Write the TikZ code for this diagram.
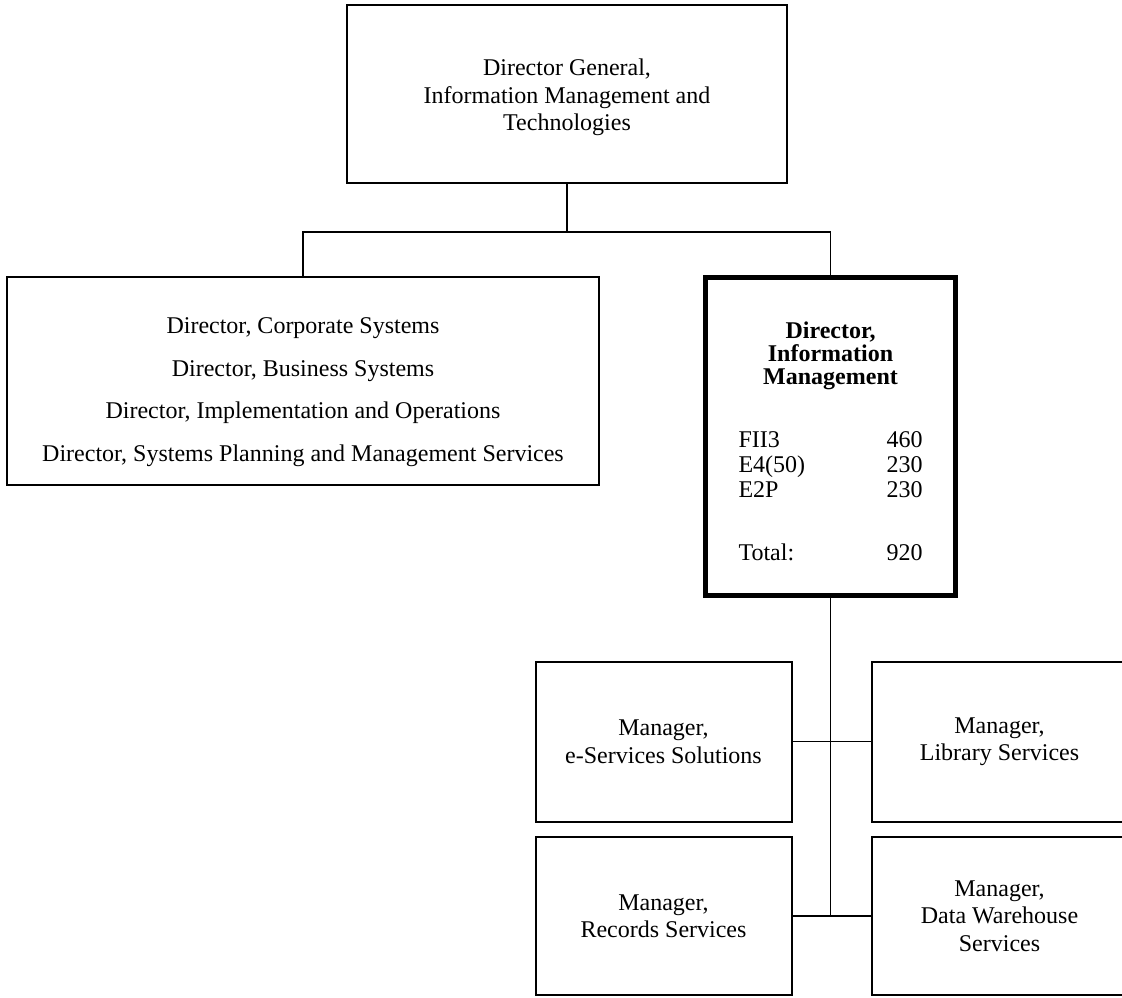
\documentclass[tikz,border=0pt]{standalone}
\usepackage{fontspec}
\setmainfont{Liberation Serif}
\usetikzlibrary{positioning}
\tikzset{
  office/.style={draw=black, line width=1pt, align=center, inner sep=0pt,
    font=\fontsize{12}{13.75}\selectfont},
  chief/.style={office, line width=2.5pt},
  names/.style={align=center, inner sep=0pt, font=\fontsize{12}{13.75}\selectfont},
  link/.style={draw=black, line width=0.75pt}
}

\begin{document}
\begin{tikzpicture}[x=0.5pt,y=-0.5pt]
  \useasboundingbox (0,0) rectangle (1122,997);
  % top level
  \node[office, minimum width=220pt, minimum height=89pt] (dg) at (567,94) {};
  \node[names] (dgtext) at (567,97.5)
    {Director General,\\Information Management and\\Technologies};
  \coordinate (split) at (567,232);
  % second level
  \node[office, minimum width=296pt, minimum height=104pt] (sys) at (303,381) {};
  \node[names] (systext) at (303,392)
    {Director, Corporate Systems\\[7.5pt]Director, Business Systems\\[7.5pt]
     Director, Implementation and Operations\\[7.5pt]
     Director, Systems Planning and Management Services};
  \node[chief, minimum width=125pt, minimum height=159pt] (im) at (830.5,436.5) {};
  \node[names, font=\fontsize{12}{11.5}\selectfont] (imtext) at (830.5,445)
    {\textbf{Director,}\\\textbf{Information}\\\textbf{Management}\\[19pt]
     \def\arraystretch{1.09}%
     \begin{tabular}{@{}p{74pt}@{}r@{}}
       FII3 & 460\\
       E4(50) & 230\\
       E2P & 230\\[19pt]
       Total: & 920
     \end{tabular}};
  % managers
  \node[office, minimum width=128pt, minimum height=80pt] (es) at (663.5,741.5)
    {Manager,\\e-Services Solutions};
  \node[office, minimum width=128pt, minimum height=80pt] (lib) at (999.5,741.5)
    {Manager,\\Library Services};
  \node[office, minimum width=128pt, minimum height=79pt] (rec) at (663.5,916)
    {Manager,\\Records Services};
  \node[office, minimum width=128pt, minimum height=79pt] (dw) at (999.5,916)
    {Manager,\\Data Warehouse\\Services};
  % reporting lines
  \draw[link] (dg.south) -- (split);
  \draw[link] (sys.north) |- (split) -| (im.north);
  \draw[link] (im.south) -- (im.south |- dw.west);
  \draw[link] (es.east) -- (lib.west);
  \draw[link] (rec.east) -- (dw.west);
\end{tikzpicture}
\end{document}
